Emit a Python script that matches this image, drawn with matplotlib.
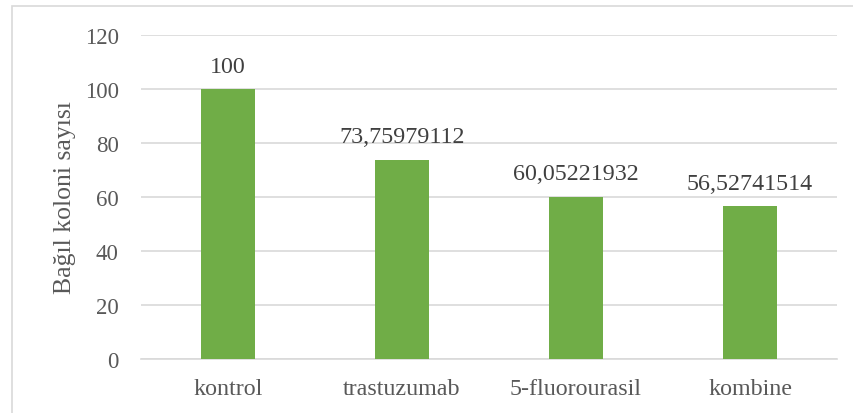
import matplotlib.pyplot as plt
from matplotlib.patches import Rectangle

categories = ["kontrol", "trastuzumab", "5-fluorourasil", "kombine"]
values = [100, 73.75979112, 60.05221932, 56.52741514]
labels = ["100", "73,75979112", "60,05221932", "56,52741514"]
yticks = [0, 20, 40, 60, 80, 100, 120]

plt.rcParams['font.family'] = ['Liberation Serif', 'DejaVu Serif']
txt = '#595959'

fig = plt.figure(figsize=(8.54, 4.14), dpi=100)
ax = fig.add_axes([0.1651, 0.1304, 0.815, 0.7826])

x = list(range(len(categories)))
bars = ax.bar(x, values, width=0.316, color='#70ad47', zorder=3)
for b, lab in zip(bars, labels):
    ax.annotate(lab, (b.get_x() + b.get_width() / 2, b.get_height()),
                xytext=(0, 9), textcoords='offset points', ha='center', va='bottom',
                fontsize=17.3, color='#404040')

ax.set_xlim(-0.5, len(categories) - 0.5)
ax.set_ylim(0, 120)
ax.set_yticks(yticks)
ax.set_xticks(x)
ax.set_xticklabels(categories)
ax.tick_params(axis='both', length=0, colors=txt)
ax.tick_params(axis='y', labelsize=16.5, pad=16)
ax.tick_params(axis='x', labelsize=17.3, pad=14)
ax.grid(axis='y', color='#d9d9d9', linewidth=1.2, zorder=0)
for s in ['top', 'right', 'left']:
    ax.spines[s].set_visible(False)
ax.spines['bottom'].set_color('#d9d9d9')
ax.spines['bottom'].set_linewidth(1.2)
ax.set_ylabel('Bağıl koloni sayısı', fontsize=18.5, color=txt, labelpad=6)

# outer chart border
fig.patches.append(Rectangle((12 / 854, -0.1), 1.2, (414 - 7) / 414 + 0.1,
                             transform=fig.transFigure, fill=False,
                             edgecolor='#d9d9d9', linewidth=1.2))

fig.savefig('out.png', dpi=100)
